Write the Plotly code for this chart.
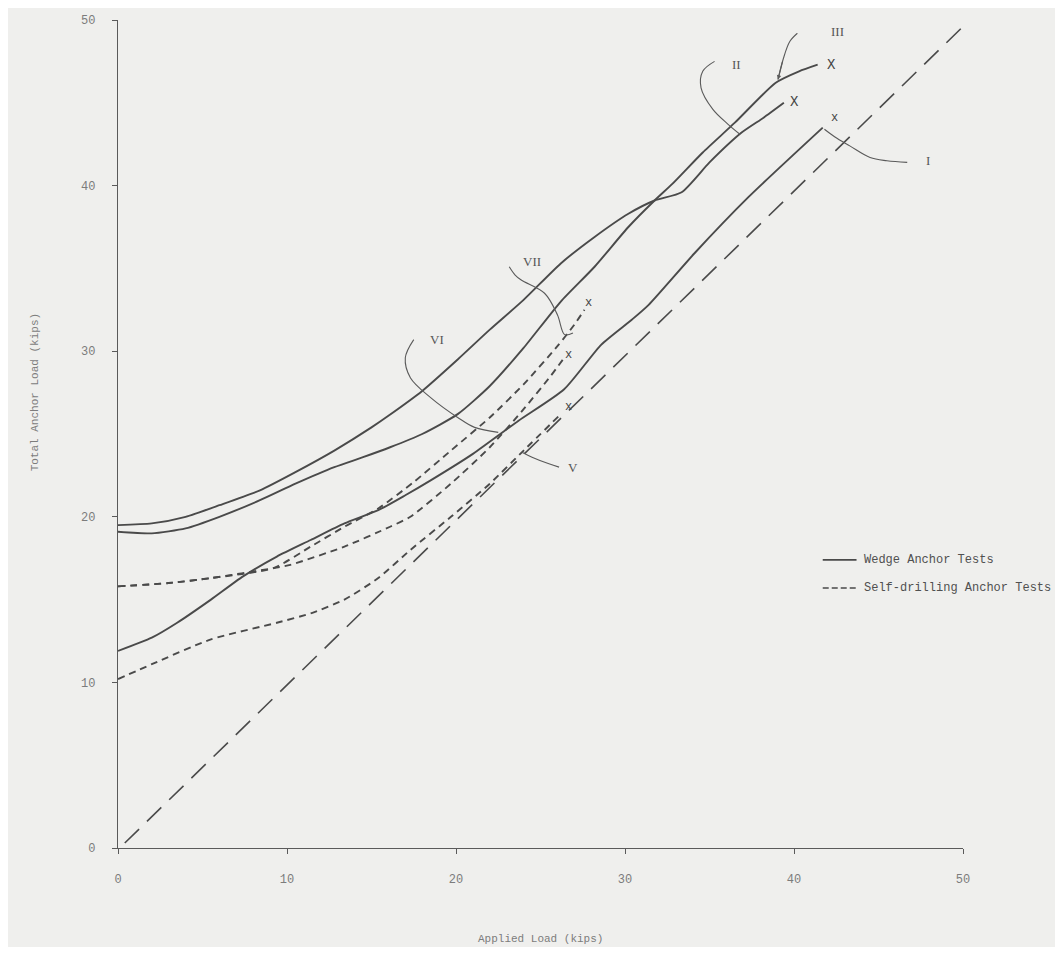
import plotly.graph_objects as go

# ---------------- data ----------------
# Wedge anchor tests (solid)
wedge_I_x = [0, 2, 3.5, 5.5, 7.4, 9.4, 11.4, 13.4, 15.4, 17, 18.5, 21, 23.7, 26.4, 28.6, 30.4, 31.4, 34.1, 37.3, 41.7]
wedge_I_y = [11.9, 12.7, 13.6, 15.0, 16.4, 17.6, 18.6, 19.6, 20.4, 21.3, 22.2, 23.8, 25.8, 27.7, 30.4, 31.9, 32.8, 35.9, 39.3, 43.5]

wedge_II_x = [0, 2, 4, 6, 8.4, 10.5, 12.8, 15, 16, 18, 20.1, 22, 24, 26.2, 28.2, 30.2, 31.75, 33.35, 35, 36.9, 38.2, 39.4]
wedge_II_y = [19.5, 19.6, 20.0, 20.7, 21.6, 22.7, 24.0, 25.4, 26.1, 27.6, 29.5, 31.3, 33.1, 35.3, 36.9, 38.3, 39.1, 39.6, 41.4, 43.2, 44.1, 45.0]

wedge_III_x = [0, 2, 4, 6, 8.4, 10.5, 12.8, 14.5, 16.1, 18, 20.1, 22, 24, 26.2, 28.2, 30.2, 31.75, 32.8, 34.6, 36.5, 38.9, 40.3, 41.4]
wedge_III_y = [19.1, 19.0, 19.3, 20.0, 21.0, 22.0, 23.0, 23.6, 24.2, 25.0, 26.2, 27.9, 30.2, 33.0, 35.1, 37.5, 39.1, 40.1, 42.0, 43.8, 46.2, 46.9, 47.3]

# Self-drilling anchor tests (dashed)
drill_V_x = [0, 2, 5.5, 9.4, 11.5, 13.4, 15.4, 17.3, 19.7, 22, 24, 26.2]
drill_V_y = [10.2, 11.1, 12.6, 13.6, 14.2, 15.0, 16.3, 18.0, 20.0, 22.0, 24.0, 26.2]

drill_VI_x = [0, 3, 5.5, 9.2, 10.2, 13.4, 16.1, 17.3, 19.7, 22, 24, 25.6, 26.4]
drill_VI_y = [15.8, 16.0, 16.3, 16.9, 17.1, 18.2, 19.4, 20.0, 22.0, 24.2, 26.5, 28.5, 29.6]

drill_VII_x = [0, 3, 5.5, 9.2, 11.4, 13.4, 15.4, 17.5, 19.7, 22, 24, 26, 27, 27.6]
drill_VII_y = [15.8, 16.0, 16.3, 16.9, 18.2, 19.4, 20.5, 22.1, 24.0, 26.0, 28.0, 30.3, 31.6, 32.5]

# reference line: total load = applied load
diag_x = [0.4, 50.5]
diag_y = [0.3, 50.1]

# failure marks ("X") at the end of each test
fail_x = [42.2, 40.05, 42.37, 27.83, 26.65, 26.65]
fail_y = [47.3, 45.05, 44.08, 32.9, 29.77, 26.63]
fail_txt = ["X", "X", "x", "x", "x", "x"]

# curve labels and their leader lines
label_txt = ["III", "II", "I", "VII", "VI", "V"]
label_x = [42.6, 36.6, 47.9, 24.5, 18.9, 26.9]
label_y = [49.3, 47.3, 41.5, 35.4, 30.7, 23.0]

lead_III_x = [40.2, 39.75, 39.35, 39.05]
lead_III_y = [49.2, 48.7, 47.6, 46.4]
lead_II_x = [35.3, 34.6, 34.5, 35.2, 36.1, 36.8]
lead_II_y = [47.5, 46.9, 45.9, 44.6, 43.7, 43.1]
lead_I_x = [46.7, 45.5, 44.5, 43.3, 42.4, 41.8]
lead_I_y = [41.4, 41.5, 41.7, 42.4, 42.95, 43.4]
lead_VII_x = [23.15, 23.5, 23.86, 25.24, 26.0, 26.43, 26.92]
lead_VII_y = [35.1, 34.6, 34.3, 33.5, 32.2, 31.0, 31.1]
lead_VI_x = [17.5, 17.0, 17.3, 18.5, 20.1, 21.1, 22.5]
lead_VI_y = [30.7, 29.6, 28.4, 27.2, 26.0, 25.4, 25.1]
lead_V_x = [26.1, 25.5, 24.5, 23.9]
lead_V_y = [23.0, 23.2, 23.6, 23.9]

x_ticks = [0, 10, 20, 30, 40, 50]
y_ticks = [0, 10, 20, 30, 40, 50]

legend_names = ["Wedge Anchor Tests", "Self-drilling Anchor Tests"]

# ---------------- styling ----------------
INK = "#4a4a4a"
TXT = "#7c7c7c"
BG = "#efefed"
MONO = "Liberation Mono, DejaVu Sans Mono, monospace"
DATA_DASH = "7px,5px"

fig = go.Figure()

def curve(x, y, dash):
    fig.add_trace(go.Scatter(
        x=x, y=y, mode="lines",
        line=dict(color=INK, width=1.9, dash=dash, shape="spline", smoothing=0.6),
        showlegend=False, hoverinfo="skip"))

curve(wedge_I_x, wedge_I_y, "solid")
curve(wedge_II_x, wedge_II_y, "solid")
curve(wedge_III_x, wedge_III_y, "solid")
curve(drill_V_x, drill_V_y, DATA_DASH)
curve(drill_VI_x, drill_VI_y, DATA_DASH)
curve(drill_VII_x, drill_VII_y, DATA_DASH)

fig.add_trace(go.Scatter(x=diag_x, y=diag_y, mode="lines",
                         line=dict(color=INK, width=1.6, dash="20px,11px"),
                         showlegend=False, hoverinfo="skip"))

for lx, ly in [(lead_III_x, lead_III_y), (lead_II_x, lead_II_y), (lead_I_x, lead_I_y),
               (lead_VII_x, lead_VII_y), (lead_VI_x, lead_VI_y), (lead_V_x, lead_V_y)]:
    fig.add_trace(go.Scatter(x=lx, y=ly, mode="lines",
                             line=dict(color="#5a5a5a", width=1.1, shape="spline", smoothing=1.0),
                             showlegend=False, hoverinfo="skip"))

# failure marks
for fx, fy, ft in zip(fail_x, fail_y, fail_txt):
    fig.add_annotation(x=fx, y=fy, text=ft, showarrow=False,
                       font=dict(family=MONO, size=14 if ft == "X" else 12, color="#444"))

# curve labels
for t, lx, ly in zip(label_txt, label_x, label_y):
    fig.add_annotation(x=lx, y=ly, text=t, showarrow=False,
                       font=dict(family="Liberation Serif, DejaVu Serif, serif", size=13, color="#555"))

# small arrow head on the III leader
fig.add_annotation(x=lead_III_x[-1], y=lead_III_y[-1], ax=lead_III_x[-2], ay=lead_III_y[-2],
                   xref="x", yref="y", axref="x", ayref="y", text="", showarrow=True,
                   arrowhead=2, arrowsize=0.8, arrowwidth=1.1, arrowcolor="#5a5a5a")

# hand-drawn style key (line sample + text)
key_rows = [(0.348, "solid"), (0.314, "6px,3px")]
for (ky, kdash), kname in zip(key_rows, legend_names):
    fig.add_shape(type="line", xref="paper", yref="paper", x0=0.834, x1=0.874, y0=ky, y1=ky,
                  line=dict(color=INK, width=1.6, dash=kdash))
    fig.add_annotation(xref="paper", yref="paper", x=0.881, y=ky, xanchor="left", yanchor="middle",
                       text=kname, showarrow=False,
                       font=dict(family=MONO, size=12, color="#505050"))

# axis titles
fig.add_annotation(xref="paper", yref="paper", x=0.5, y=-0.12, text="Applied Load (kips)",
                   showarrow=False, font=dict(family=MONO, size=11, color=TXT))
fig.add_annotation(xref="paper", yref="paper", x=-0.108, y=0.55, text="Total Anchor Load (kips)",
                   textangle=-90, showarrow=False, font=dict(family=MONO, size=11, color=TXT))

fig.update_layout(
    width=1047, height=939,
    margin=dict(l=110, r=92, t=12, b=99, autoexpand=False),
    paper_bgcolor=BG, plot_bgcolor=BG,
    showlegend=False,
)
fig.update_xaxes(range=[0, 50], tickvals=x_ticks, showgrid=False, zeroline=False, automargin=False,
                 showline=True, linecolor="#5a5a5a", linewidth=1.3,
                 ticks="outside", ticklen=5, tickwidth=1.3, tickcolor="#5a5a5a",
                 ticklabelstandoff=14,
                 tickfont=dict(family=MONO, size=12, color=TXT))
fig.update_yaxes(range=[0, 50], tickvals=y_ticks, showgrid=False, zeroline=False, automargin=False,
                 showline=True, linecolor="#5a5a5a", linewidth=1.3,
                 ticks="outside", ticklen=5, tickwidth=1.3, tickcolor="#5a5a5a",
                 ticklabelstandoff=14,
                 tickfont=dict(family=MONO, size=12, color=TXT))

fig.write_html("out.html")
